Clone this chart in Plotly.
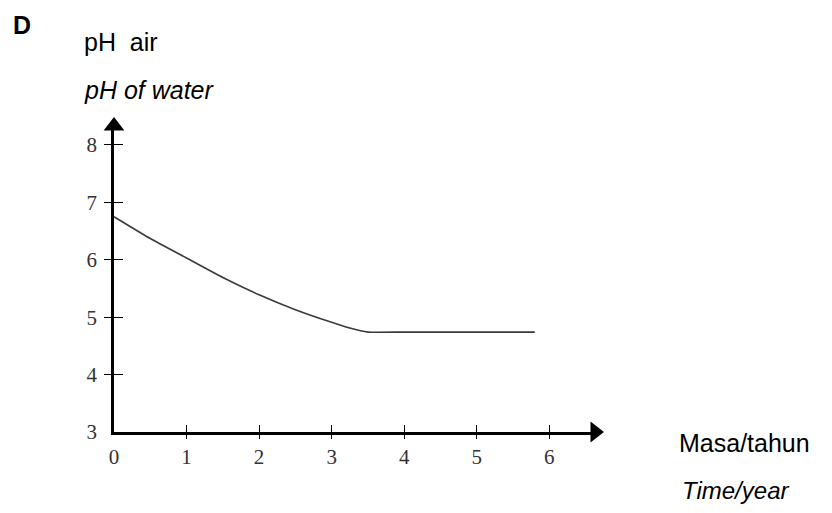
import plotly.graph_objects as go

# Data
time_years = [0, 0.5, 1, 1.5, 2, 2.5, 3, 3.25, 3.5, 4, 4.5, 5, 5.5, 5.8]
ph_values = [6.75, 6.37, 6.03, 5.69, 5.39, 5.13, 4.91, 4.81, 4.74, 4.74, 4.74, 4.74, 4.74, 4.74]
x_ticks = [0, 1, 2, 3, 4, 5, 6]
y_ticks = [3, 4, 5, 6, 7, 8]

X_MAX = 6.63
Y_MAX = 8.33

fig = go.Figure()
fig.add_trace(go.Scatter(
    x=time_years, y=ph_values, mode="lines",
    line=dict(color="#3a3a3a", width=1.6, shape="spline", smoothing=0.4),
    hoverinfo="skip", showlegend=False,
))
# arrow heads at axis ends (on overlay axes)
fig.add_trace(go.Scatter(
    x=[X_MAX], y=[3], mode="markers", xaxis="x2", yaxis="y2",
    marker=dict(symbol="triangle-right", size=18, color="black"),
    cliponaxis=False, showlegend=False, hoverinfo="skip",
))
fig.add_trace(go.Scatter(
    x=[0], y=[Y_MAX], mode="markers", xaxis="x2", yaxis="y2",
    marker=dict(symbol="triangle-up", size=18, color="black"),
    cliponaxis=False, showlegend=False, hoverinfo="skip",
))

tickfont = dict(family="Liberation Serif", size=21, color="#333")

fig.update_layout(
    width=832, height=513, autosize=False,
    margin=dict(l=106, r=245, t=118, b=89, pad=0, autoexpand=False),
    paper_bgcolor="white", plot_bgcolor="white",
    xaxis=dict(range=[0, X_MAX], showgrid=False, zeroline=False, automargin=False,
               showline=True, linecolor="black", linewidth=2.5,
               tickmode="array", tickvals=x_ticks, ticktext=[str(v) for v in x_ticks],
               ticks="inside", ticklen=7, tickwidth=1.3, tickcolor="black",
               tickfont=tickfont, ticklabelstandoff=4, fixedrange=True),
    yaxis=dict(range=[3, Y_MAX], showgrid=False, zeroline=False, automargin=False,
               showline=True, linecolor="black", linewidth=2.5,
               tickmode="array", tickvals=y_ticks, ticktext=[str(v) for v in y_ticks],
               ticks="inside", ticklen=9, tickwidth=1.3, tickcolor="black",
               tickfont=tickfont, ticklabelstandoff=10, fixedrange=True),
    xaxis2=dict(range=[0, X_MAX], overlaying="x", anchor="y2", showgrid=False,
                zeroline=False, showline=False, showticklabels=False, automargin=False,
                tickmode="array", tickvals=x_ticks[1:], ticks="outside",
                ticklen=6, tickwidth=1.3, tickcolor="black", fixedrange=True),
    yaxis2=dict(range=[3, Y_MAX], overlaying="y", anchor="x2", showgrid=False,
                zeroline=False, showline=False, showticklabels=False, automargin=False,
                tickmode="array", tickvals=y_ticks[1:], ticks="outside",
                ticklen=9, tickwidth=1.3, tickcolor="black", fixedrange=True),
)

def px_x(px):
    return (px - 114) / 481.0

def px_y(py):
    return (432 - py) / 306.0

texts = [
    ("pH  air", 82, 42, 25),
    ("<i>pH of water</i>", 82, 90, 25),
    ("Masa/tahun", 677, 443, 25),
    ("<i>Time/year</i>", 680, 490, 24),
]
for t, x, y, s in texts:
    fig.add_annotation(
        text=t, xref="paper", yref="paper", x=px_x(x), y=px_y(y),
        xanchor="left", yanchor="middle", showarrow=False,
        font=dict(family="Liberation Sans", size=s, color="black"),
    )

# panel letter, anchored at the top of the figure
fig.add_annotation(
    text="<b>D</b>", xref="paper", yref="paper", x=px_x(11), y=px_y(8.5),
    xanchor="left", yanchor="top", showarrow=False,
    font=dict(family="Liberation Sans", size=25, color="black"),
)

fig.write_html("out.html")
